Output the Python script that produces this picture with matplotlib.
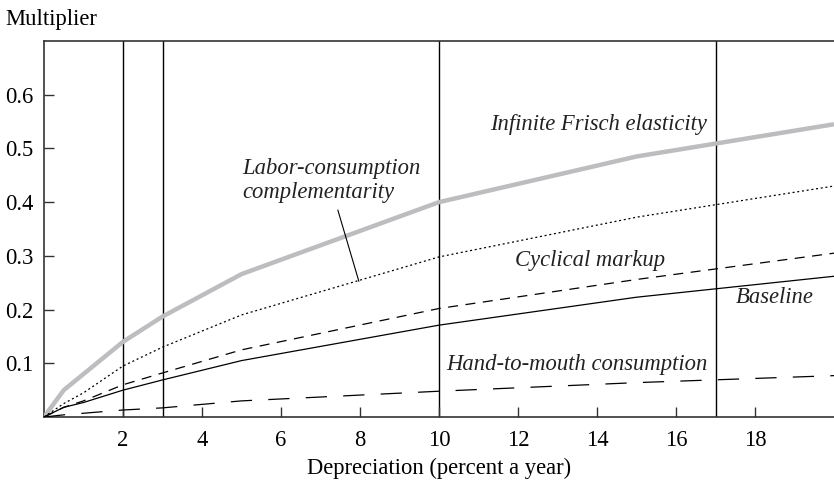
import matplotlib
matplotlib.use("Agg")
import matplotlib.pyplot as plt

# depreciation rates (percent a year)
depr = [0, 0.5, 1, 2, 3, 5, 10, 15, 20]

frisch = [0, 0.05, 0.08, 0.14, 0.187, 0.266, 0.40, 0.485, 0.545]
labor_cons = [0, 0.025, 0.045, 0.095, 0.13, 0.19, 0.298, 0.372, 0.43]
markup = [0, 0.018, 0.03, 0.06, 0.082, 0.125, 0.202, 0.256, 0.305]
baseline = [0, 0.018, 0.027, 0.05, 0.069, 0.105, 0.171, 0.223, 0.262]
hand_mouth = [0, 0.004, 0.007, 0.013, 0.017, 0.03, 0.048, 0.064, 0.077]

vlines = [2, 3, 10, 17]

plt.rcParams['font.family'] = ['Liberation Serif', 'DejaVu Serif']
fs = 16.3

fig = plt.figure(figsize=(8.34, 4.83), dpi=100)
ax = fig.add_axes([44/834, 66/483, 1 - 44/834, (417-41)/483])

for v in vlines:
    ax.axvline(v, color='black', lw=1.0, zorder=1)

ax.plot(depr, frisch, color='#bdbdc0', lw=3.2, solid_capstyle='butt', zorder=3)
ax.plot(depr, labor_cons, color='black', lw=0.9, linestyle=(0, (1.6, 2.2)), zorder=3)
ax.plot(depr, markup, color='black', lw=0.9, linestyle=(0, (8, 6)), zorder=3)
ax.plot(depr, baseline, color='black', lw=0.9, zorder=3)
ax.plot(depr, hand_mouth, color='black', lw=0.9, linestyle=(0, (17, 13)), zorder=3)

ax.set_xlim(0, 20)
ax.set_ylim(0, 0.7)
ax.set_xticks([2, 4, 6, 8, 10, 12, 14, 16, 18])
ax.set_yticks([0.1, 0.2, 0.3, 0.4, 0.5, 0.6])
ax.set_yticklabels(['0.1', '0.2', '0.3', '0.4', '0.5', '0.6'])
ax.tick_params(direction='in', length=7, width=1, color='#333333',
               labelsize=fs, pad=7.5)
ax.tick_params(axis='x', pad=9)
for s in ['left', 'bottom', 'top']:
    ax.spines[s].set_color('#333333')
    ax.spines[s].set_linewidth(1.2)
ax.spines['right'].set_visible(False)

ax.set_xlabel("Depreciation (percent a year)", fontsize=fs, labelpad=5)
fig.text(5/834, 1 - 25/483, "Multiplier", fontsize=fs, ha='left', va='baseline')

lab = dict(fontsize=fs, style='italic', color='#222222')
ax.text(14.03, 0.545, "Infinite Frisch elasticity", ha='center', va='center', **lab)
ax.text(5.01, 0.44, "Labor-consumption\ncomplementarity", ha='left', va='center',
        multialignment='left', linespacing=1.15, **lab)
ax.text(13.82, 0.292, "Cyclical markup", ha='center', va='center', **lab)
ax.text(18.5, 0.223, "Baseline", ha='center', va='center', **lab)
ax.text(13.49, 0.097, "Hand-to-mouth consumption", ha='center', va='center', **lab)

ax.plot([7.44, 7.97], [0.385, 0.253], color='black', lw=0.8, zorder=4)

fig.savefig("out.png", dpi=100)
